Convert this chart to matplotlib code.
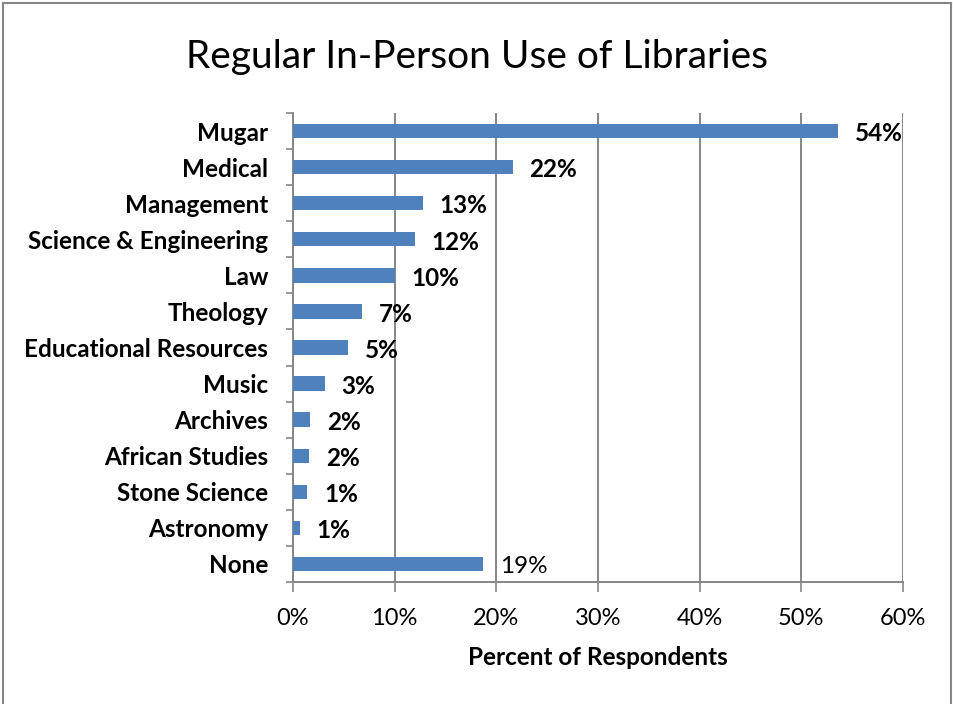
import matplotlib
matplotlib.use("Agg")
import matplotlib.pyplot as plt
from matplotlib.lines import Line2D

plt.rcParams["font.family"] = ["Lato", "DejaVu Sans"]

libraries = [
    "Mugar", "Medical", "Management", "Science & Engineering", "Law",
    "Theology", "Educational Resources", "Music", "Archives",
    "African Studies", "Stone Science", "Astronomy", "None",
]
percent = [53.6, 21.6, 12.8, 12.0, 10.0, 6.8, 5.4, 3.1, 1.7, 1.6, 1.4, 0.7, 18.7]
xticks = [0, 10, 20, 30, 40, 50, 60]

W, H = 954, 704
fig = plt.figure(figsize=(W / 100, H / 100), dpi=100)
ax = fig.add_axes([293 / W, (H - 582) / H, 610 / W, 469 / H])

gray = "#868686"
y = list(range(len(libraries)))
ax.barh(y, percent, height=0.4, color="#4f81bd", zorder=3)
ax.set_ylim(len(libraries) - 0.5, -0.5)
ax.set_xlim(0, 60)
ax.set_xticks(xticks)
ax.set_xticklabels([f"{t}%" for t in xticks], fontsize=17)
ax.set_yticks(y)
ax.set_yticklabels(libraries, fontsize=17.5, fontweight="bold")
ax.set_yticks([i - 0.5 for i in range(len(libraries) + 1)], minor=True)
ax.tick_params(axis="y", which="major", length=0, pad=18)
ax.tick_params(axis="y", which="minor", length=5, color=gray, width=1.2)
ax.tick_params(axis="x", length=7, color=gray, width=1.2, pad=12)
ax.grid(True, axis="x", color=gray, linewidth=1.4, zorder=0)
for side in ["top", "right"]:
    ax.spines[side].set_visible(False)
for side in ["left", "bottom"]:
    ax.spines[side].set_color(gray)
    ax.spines[side].set_linewidth(1.4)

for i, v in enumerate(percent):
    ax.annotate(
        f"{round(v)}%",
        xy=(v, i),
        xytext=(12, -2),
        textcoords="offset points",
        ha="left",
        va="center",
        fontsize=17.5,
        fontweight="normal" if libraries[i] == "None" else "bold",
    )

ax.set_xlabel("Percent of Respondents", fontsize=17.5, fontweight="bold", labelpad=12)
fig.text(477 / W, 1 - 57 / H, "Regular In-Person Use of Libraries",
         ha="center", va="center", fontsize=28)

for xs, ys in [((3 / W, 3 / W), (0, 1 - 3 / H)),
               ((3 / W, 951 / W), (1 - 3 / H, 1 - 3 / H)),
               ((951 / W, 951 / W), (0, 1 - 3 / H))]:
    fig.add_artist(Line2D(xs, ys, transform=fig.transFigure, color=gray, linewidth=1.5))

fig.savefig("out.png", dpi=100)
